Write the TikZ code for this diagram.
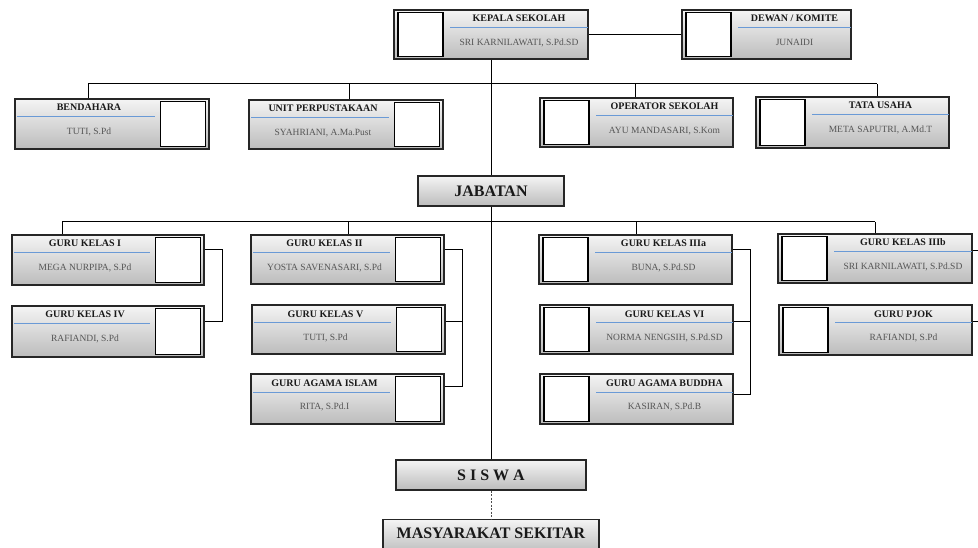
\documentclass[tikz,border=0pt]{standalone}
\usepackage{fontspec}
\setmainfont{Liberation Serif}
\usetikzlibrary{shadows,calc}
\definecolor{blueln}{HTML}{6A9AD6}
\definecolor{nmgray}{HTML}{555555}
\definecolor{gtop}{HTML}{F4F4F4}
\definecolor{gbot}{HTML}{BCBCBC}
\tikzset{
  ubox/.style={draw=black!85, line width=1.1pt, top color=gtop, bottom color=gbot,
    drop shadow={shadow xshift=1.3pt, shadow yshift=-1.3pt, fill=black, opacity=0.3}, inner sep=0pt},
  photo/.style={draw=black, line width=1.5pt, fill=white, inner sep=0pt},
  ttl/.style={font=\bfseries\fontsize{10}{11}\selectfont, text=black!90, inner sep=0pt, text height=7pt, text depth=2pt},
  nme/.style={font=\fontsize{9.5}{10}\selectfont, text=nmgray, inner sep=0pt, text height=7pt, text depth=2pt},
  bigtxt/.style={font=\bfseries\fontsize{16}{18}\selectfont, text=black!90},
  blueline/.style={draw=blueln, line width=1pt},
  conn/.style={draw=black, line width=1pt},
}
% photo on the right
\newcommand\orgR[7]{%
  \node[ubox, minimum width={(#4)-(#2)}, minimum height={(#5)-(#3)}] (#1) at ({((#2)+(#4))/2},{((#3)+(#5))/2}) {};
  \node[photo, minimum width=45, minimum height={(#5)-(#3)-5}, anchor=east] (#1-p) at ({(#4)-3},{((#3)+(#5))/2}) {};
  \draw[blueline] ({(#2)+2},{(#3)+18}) -- ({(#4)-54},{(#3)+18});
  \node[ttl] (#1-t) at ({((#2)+(#4)-46)/2},{(#3)+9.5}) {#6};
  \node[nme] (#1-n) at ({((#2)+(#4)-46)/2},{(#3)+33}) {#7};
}
% photo on the left
\newcommand\orgL[7]{%
  \node[ubox, minimum width={(#4)-(#2)}, minimum height={(#5)-(#3)}] (#1) at ({((#2)+(#4))/2},{((#3)+(#5))/2}) {};
  \node[photo, minimum width=45, minimum height={(#5)-(#3)-5}, anchor=west] (#1-p) at ({(#2)+3},{((#3)+(#5))/2}) {};
  \draw[blueline] ({(#2)+56},{(#3)+18}) -- ({(#4)},{(#3)+18});
  \node[ttl] (#1-t) at ({((#2)+(#4)+56)/2},{(#3)+9.5}) {#6};
  \node[nme] (#1-n) at ({((#2)+(#4)+56)/2},{(#3)+33}) {#7};
}
\begin{document}
\begin{tikzpicture}[x=1pt,y=-1pt]
\useasboundingbox (0,0) rectangle (978,548);

% top
\orgL{kepala}{394}{10}{588}{59}{KEPALA SEKOLAH}{SRI KARNILAWATI, S.Pd.SD}
\orgL{dewan}{682}{10}{851}{59}{DEWAN / KOMITE}{JUNAIDI}
% staff
\orgR{bend}{15}{99}{209}{149}{BENDAHARA}{TUTI, S.Pd}
\orgR{unit}{249}{100}{443}{149}{UNIT PERPUSTAKAAN}{SYAHRIANI, A.Ma.Pust}
\orgL{oper}{540}{98}{733}{147}{OPERATOR SEKOLAH}{AYU MANDASARI, S.Kom}
\orgL{tata}{756}{97}{949}{148}{TATA USAHA}{META SAPUTRI, A.Md.T}
% teachers
\orgR{g1}{12}{235}{204}{285}{GURU KELAS I}{MEGA NURPIPA, S.Pd}
\orgR{g4}{12}{306}{204}{357}{GURU KELAS IV}{RAFIANDI, S.Pd}
\orgR{g2}{251}{235}{444}{284}{GURU KELAS II}{YOSTA SAVENASARI, S.Pd}
\orgR{g5}{252}{305}{445}{354}{GURU KELAS V}{TUTI, S.Pd}
\orgR{gi}{251}{374}{444}{424}{GURU AGAMA ISLAM}{RITA, S.Pd.I}
\orgL{g3a}{539}{235}{732}{284}{GURU KELAS IIIa}{BUNA, S.Pd.SD}
\orgL{g6}{540}{305}{733}{354}{GURU KELAS VI}{NORMA NENGSIH, S.Pd.SD}
\orgL{gb}{540}{374}{733}{424}{GURU AGAMA BUDDHA}{KASIRAN, S.Pd.B}
\orgL{g3b}{778}{234}{972}{283}{GURU KELAS IIIb}{SRI KARNILAWATI, S.Pd.SD}
\orgL{pj}{779}{305}{972}{355}{GURU PJOK}{RAFIANDI, S.Pd}

% central boxes
\node[ubox, minimum width=146, minimum height=30, bigtxt] (jab) at (491,191) {JABATAN};
\node[ubox, minimum width=190, minimum height=30, bigtxt] (siswa) at (491,475) {S I S W A};
\node[ubox, minimum width=216, minimum height=34, anchor=north] (masy) at (491,519) {};
\node[bigtxt, inner sep=0pt] (masyt) at (491,533) {MASYARAKAT SEKITAR};

% connectors: top
\draw[conn] (kepala.east) -- (dewan.west);
\draw[conn] (kepala.south) -- (jab.north);
\coordinate (busA1) at (88,84);
\coordinate (busA2) at (349,84);
\coordinate (busA3) at (635,84);
\coordinate (busA4) at (877,84);
\draw[conn] (busA1) -- (busA4);
\draw[conn] (busA1) -- (busA1 |- bend.north);
\draw[conn] (busA2) -- (busA2 |- unit.north);
\draw[conn] (busA3) -- (busA3 |- oper.north);
\draw[conn] (busA4) -- (busA4 |- tata.north);

% connectors: teachers
\draw[conn] (jab.south) -- (siswa.north);
\coordinate (busB1) at (62,222);
\coordinate (busB2) at (348,222);
\coordinate (busB3) at (636,222);
\coordinate (busB4) at (875,222);
\draw[conn] (busB1) -- (busB4);
\draw[conn] (busB1) -- (busB1 |- g1.north);
\draw[conn] (busB2) -- (busB2 |- g2.north);
\draw[conn] (busB3) -- (busB3 |- g3a.north);
\draw[conn] (busB4) -- (busB4 |- g3b.north);

% brackets
\coordinate (brA) at (222,0);
\coordinate (brB) at (462,0);
\coordinate (brC) at (750,0);
\coordinate (brD) at (978,0);
\coordinate (c1) at ($(g1.north east)+(0,15)$);
\coordinate (c4) at ($(g4.north east)+(0,16)$);
\draw[conn] (c1) -- (c1 -| brA) -- (c4 -| brA) -- (c4);
\coordinate (c2) at ($(g2.north east)+(0,15)$);
\coordinate (c5) at ($(g5.north east)+(0,17)$);
\coordinate (ci) at ($(gi.north east)+(0,13)$);
\draw[conn] (c2) -- (c2 -| brB) -- (ci -| brB) -- (ci);
\draw[conn] (c5) -- (c5 -| brB);
\coordinate (c3a) at ($(g3a.north east)+(0,15)$);
\coordinate (c6) at ($(g6.north east)+(0,17)$);
\coordinate (cb) at ($(gb.north east)+(0,21)$);
\draw[conn] (c3a) -- (c3a -| brC) -- (cb -| brC) -- (cb);
\draw[conn] (c6) -- (c6 -| brC);
\coordinate (c3b) at ($(g3b.north east)+(0,17)$);
\coordinate (cp) at ($(pj.north east)+(0,17)$);
\draw[conn] (c3b) -- (c3b -| brD);
\draw[conn] (cp) -- (cp -| brD);

% bottom
\draw[conn, draw=black!70, dash pattern=on 2pt off 1.5pt] (siswa.south) -- (masy.north);
\end{tikzpicture}
\end{document}
